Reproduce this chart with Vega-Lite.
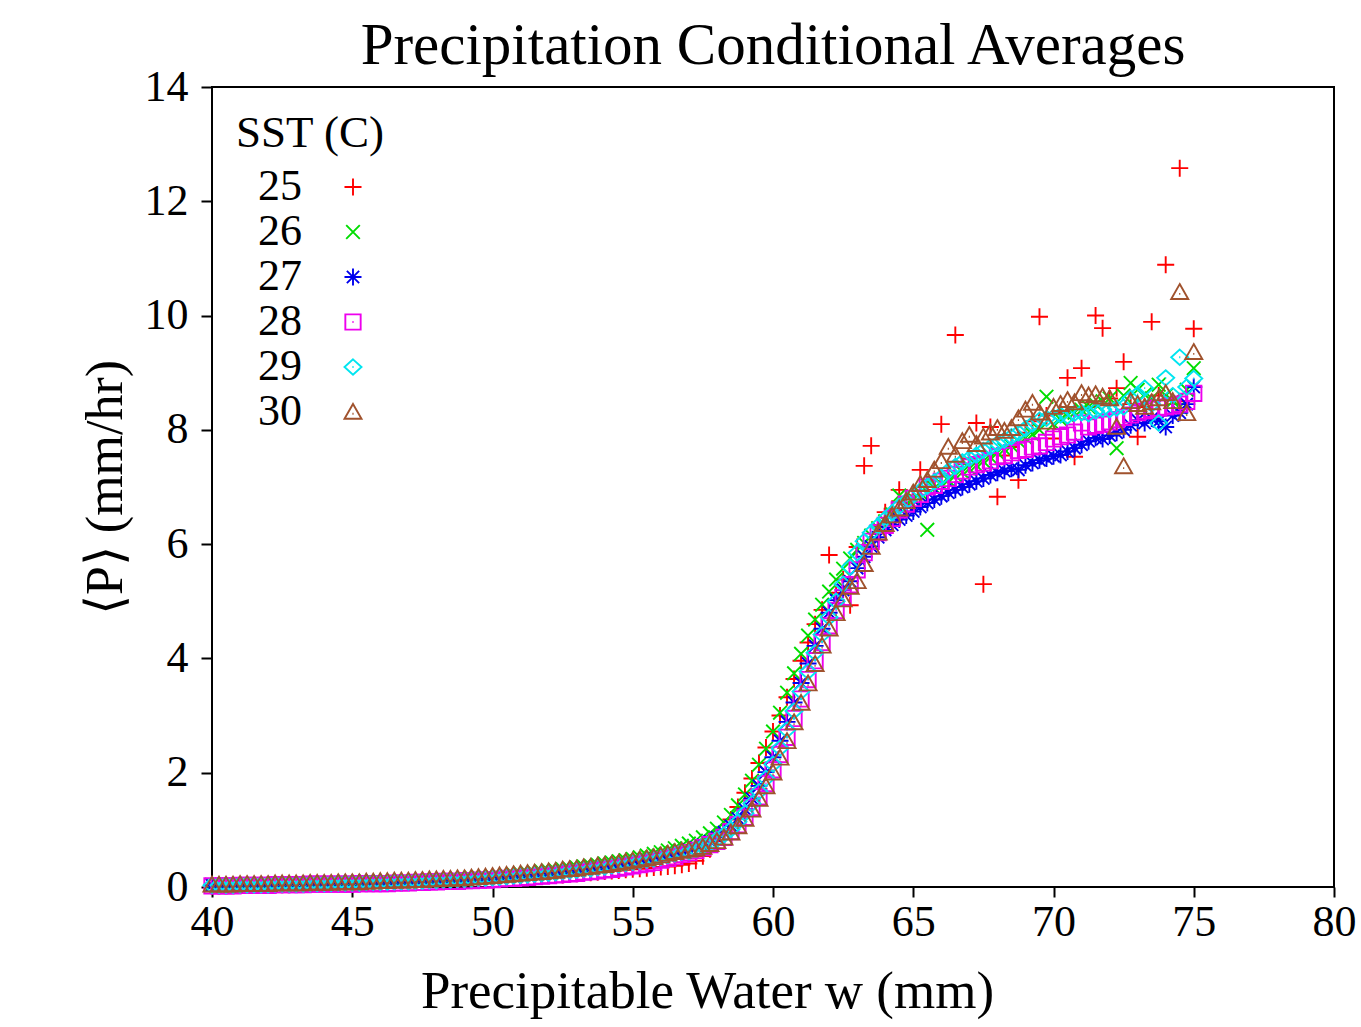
{
  "$schema": "https://vega.github.io/schema/vega-lite/v6.json",
  "width": 1122,
  "height": 800,
  "autosize": {"type": "none"},
  "padding": {"left": 212, "top": 87, "right": 27, "bottom": 140},
  "background": "white",
  "title": {
    "text": "Precipitation Conditional Averages",
    "font": "Liberation Serif",
    "fontSize": 59,
    "fontWeight": "normal",
    "color": "#000",
    "anchor": "middle",
    "frame": "group",
    "offset": -11
  },
  "data": {
    "values": [
      {"w":40.00,"25":0.02,"26":0.04,"27":0.03,"28":0.02,"29":0.03,"30":0.04},
      {"w":40.25,"25":0.02,"26":0.04,"27":0.03,"28":0.02,"29":0.03,"30":0.04},
      {"w":40.50,"25":0.03,"26":0.04,"27":0.03,"28":0.02,"29":0.03,"30":0.04},
      {"w":40.75,"25":0.03,"26":0.04,"27":0.03,"28":0.02,"29":0.03,"30":0.04},
      {"w":41.00,"25":0.03,"26":0.05,"27":0.04,"28":0.03,"29":0.04,"30":0.05},
      {"w":41.25,"25":0.03,"26":0.05,"27":0.04,"28":0.03,"29":0.04,"30":0.05},
      {"w":41.50,"25":0.03,"26":0.05,"27":0.04,"28":0.03,"29":0.04,"30":0.05},
      {"w":41.75,"25":0.04,"26":0.05,"27":0.04,"28":0.03,"29":0.04,"30":0.05},
      {"w":42.00,"25":0.04,"26":0.05,"27":0.04,"28":0.03,"29":0.04,"30":0.05},
      {"w":42.25,"25":0.04,"26":0.06,"27":0.05,"28":0.04,"29":0.05,"30":0.06},
      {"w":42.50,"25":0.04,"26":0.06,"27":0.05,"28":0.04,"29":0.05,"30":0.06},
      {"w":42.75,"25":0.04,"26":0.06,"27":0.05,"28":0.04,"29":0.05,"30":0.06},
      {"w":43.00,"25":0.05,"26":0.06,"27":0.05,"28":0.04,"29":0.05,"30":0.06},
      {"w":43.25,"25":0.05,"26":0.06,"27":0.05,"28":0.04,"29":0.05,"30":0.06},
      {"w":43.50,"25":0.05,"26":0.07,"27":0.06,"28":0.05,"29":0.06,"30":0.07},
      {"w":43.75,"25":0.05,"26":0.07,"27":0.06,"28":0.05,"29":0.06,"30":0.07},
      {"w":44.00,"25":0.06,"26":0.07,"27":0.06,"28":0.05,"29":0.06,"30":0.07},
      {"w":44.25,"25":0.06,"26":0.07,"27":0.06,"28":0.05,"29":0.06,"30":0.07},
      {"w":44.50,"25":0.06,"26":0.08,"27":0.07,"28":0.05,"29":0.07,"30":0.08},
      {"w":44.75,"25":0.06,"26":0.08,"27":0.07,"28":0.05,"29":0.07,"30":0.08},
      {"w":45.00,"25":0.07,"26":0.08,"27":0.07,"28":0.05,"29":0.07,"30":0.08},
      {"w":45.25,"25":0.07,"26":0.08,"27":0.07,"28":0.06,"29":0.07,"30":0.08},
      {"w":45.50,"25":0.07,"26":0.09,"27":0.08,"28":0.06,"29":0.08,"30":0.09},
      {"w":45.75,"25":0.07,"26":0.09,"27":0.08,"28":0.06,"29":0.08,"30":0.09},
      {"w":46.00,"25":0.08,"26":0.09,"27":0.08,"28":0.06,"29":0.08,"30":0.10},
      {"w":46.25,"25":0.08,"26":0.09,"27":0.08,"28":0.06,"29":0.08,"30":0.10},
      {"w":46.50,"25":0.08,"26":0.10,"27":0.09,"28":0.07,"29":0.09,"30":0.11},
      {"w":46.75,"25":0.08,"26":0.10,"27":0.09,"28":0.07,"29":0.09,"30":0.11},
      {"w":47.00,"25":0.09,"26":0.10,"27":0.09,"28":0.07,"29":0.09,"30":0.11},
      {"w":47.25,"25":0.09,"26":0.11,"27":0.10,"28":0.08,"29":0.10,"30":0.12},
      {"w":47.50,"25":0.09,"26":0.11,"27":0.10,"28":0.08,"29":0.10,"30":0.12},
      {"w":47.75,"25":0.10,"26":0.12,"27":0.11,"28":0.09,"29":0.11,"30":0.13},
      {"w":48.00,"25":0.10,"26":0.12,"27":0.11,"28":0.09,"29":0.11,"30":0.13},
      {"w":48.25,"25":0.11,"26":0.13,"27":0.12,"28":0.10,"29":0.12,"30":0.14},
      {"w":48.50,"25":0.11,"26":0.13,"27":0.12,"28":0.10,"29":0.12,"30":0.14},
      {"w":48.75,"25":0.12,"26":0.14,"27":0.13,"28":0.10,"29":0.13,"30":0.15},
      {"w":49.00,"25":0.12,"26":0.15,"27":0.13,"28":0.11,"29":0.13,"30":0.15},
      {"w":49.25,"25":0.12,"26":0.16,"27":0.14,"28":0.11,"29":0.14,"30":0.16},
      {"w":49.50,"25":0.13,"26":0.17,"27":0.15,"28":0.12,"29":0.15,"30":0.17},
      {"w":49.75,"25":0.13,"26":0.17,"27":0.15,"28":0.12,"29":0.15,"30":0.18},
      {"w":50.00,"25":0.14,"26":0.18,"27":0.16,"28":0.13,"29":0.16,"30":0.19},
      {"w":50.25,"25":0.14,"26":0.19,"27":0.17,"28":0.14,"29":0.17,"30":0.20},
      {"w":50.50,"25":0.15,"26":0.20,"27":0.18,"28":0.15,"29":0.18,"30":0.21},
      {"w":50.75,"25":0.16,"26":0.22,"27":0.19,"28":0.15,"29":0.19,"30":0.22},
      {"w":51.00,"25":0.16,"26":0.23,"27":0.20,"28":0.16,"29":0.20,"30":0.23},
      {"w":51.25,"25":0.17,"26":0.24,"27":0.21,"28":0.17,"29":0.21,"30":0.24},
      {"w":51.50,"25":0.18,"26":0.25,"27":0.22,"28":0.18,"29":0.22,"30":0.25},
      {"w":51.75,"25":0.19,"26":0.27,"27":0.23,"28":0.19,"29":0.23,"30":0.26},
      {"w":52.00,"25":0.20,"26":0.28,"27":0.24,"28":0.20,"29":0.24,"30":0.27},
      {"w":52.25,"25":0.21,"26":0.29,"27":0.25,"28":0.21,"29":0.25,"30":0.28},
      {"w":52.50,"25":0.21,"26":0.31,"27":0.27,"28":0.22,"29":0.27,"30":0.30},
      {"w":52.75,"25":0.22,"26":0.32,"27":0.28,"28":0.23,"29":0.28,"30":0.31},
      {"w":53.00,"25":0.23,"26":0.34,"27":0.29,"28":0.24,"29":0.29,"30":0.32},
      {"w":53.25,"25":0.24,"26":0.36,"27":0.31,"28":0.26,"29":0.31,"30":0.34},
      {"w":53.50,"25":0.25,"26":0.37,"27":0.32,"28":0.27,"29":0.32,"30":0.35},
      {"w":53.75,"25":0.26,"26":0.39,"27":0.34,"28":0.28,"29":0.34,"30":0.37},
      {"w":54.00,"25":0.27,"26":0.41,"27":0.35,"28":0.30,"29":0.35,"30":0.38},
      {"w":54.25,"25":0.28,"26":0.43,"27":0.37,"28":0.31,"29":0.37,"30":0.40},
      {"w":54.50,"25":0.29,"26":0.45,"27":0.39,"28":0.33,"29":0.39,"30":0.42},
      {"w":54.75,"25":0.30,"26":0.47,"27":0.41,"28":0.35,"29":0.41,"30":0.44},
      {"w":55.00,"25":0.31,"26":0.49,"27":0.43,"28":0.37,"29":0.43,"30":0.46},
      {"w":55.25,"25":0.32,"26":0.52,"27":0.45,"28":0.39,"29":0.45,"30":0.48},
      {"w":55.50,"25":0.33,"26":0.55,"27":0.47,"28":0.41,"29":0.47,"30":0.50},
      {"w":55.75,"25":0.34,"26":0.58,"27":0.50,"28":0.43,"29":0.49,"30":0.52},
      {"w":56.00,"25":0.35,"26":0.61,"27":0.52,"28":0.47,"29":0.52,"30":0.55},
      {"w":56.25,"25":0.36,"26":0.64,"27":0.55,"28":0.50,"29":0.55,"30":0.58},
      {"w":56.50,"25":0.37,"26":0.68,"27":0.58,"28":0.53,"29":0.58,"30":0.61},
      {"w":56.75,"25":0.39,"26":0.72,"27":0.61,"28":0.57,"29":0.61,"30":0.63},
      {"w":57.00,"25":0.41,"26":0.76,"27":0.65,"28":0.60,"29":0.62,"30":0.65},
      {"w":57.25,"25":0.46,"26":0.81,"27":0.69,"28":0.64,"29":0.66,"30":0.67},
      {"w":57.50,"25":0.54,"26":0.87,"27":0.74,"28":0.69,"29":0.71,"30":0.70},
      {"w":57.75,"25":0.66,"26":0.94,"27":0.80,"28":0.74,"29":0.76,"30":0.75},
      {"w":58.00,"25":0.80,"26":1.02,"27":0.87,"28":0.80,"29":0.83,"30":0.80},
      {"w":58.25,"25":0.98,"26":1.13,"27":0.96,"28":0.87,"29":0.91,"30":0.86},
      {"w":58.50,"25":1.18,"26":1.26,"27":1.07,"28":0.97,"29":1.01,"30":0.95},
      {"w":58.75,"25":1.40,"26":1.43,"27":1.20,"28":1.09,"29":1.14,"30":1.06},
      {"w":59.00,"25":1.65,"26":1.62,"27":1.36,"28":1.22,"29":1.29,"30":1.19},
      {"w":59.25,"25":1.90,"26":1.86,"27":1.55,"28":1.39,"29":1.46,"30":1.35},
      {"w":59.50,"25":2.17,"26":2.14,"27":1.77,"28":1.58,"29":1.67,"30":1.54},
      {"w":59.75,"25":2.44,"26":2.42,"27":2.01,"28":1.81,"29":1.90,"30":1.76},
      {"w":60.00,"25":2.72,"26":2.72,"27":2.27,"28":2.05,"29":2.15,"30":2.00},
      {"w":60.25,"25":3.00,"26":3.05,"27":2.56,"28":2.32,"29":2.43,"30":2.26},
      {"w":60.50,"25":3.32,"26":3.40,"27":2.89,"28":2.62,"29":2.75,"30":2.55},
      {"w":60.75,"25":3.64,"26":3.74,"27":3.23,"28":2.95,"29":3.08,"30":2.88},
      {"w":61.00,"25":3.96,"26":4.08,"27":3.57,"28":3.29,"29":3.42,"30":3.22},
      {"w":61.25,"25":4.28,"26":4.40,"27":3.91,"28":3.63,"29":3.77,"30":3.56},
      {"w":61.50,"25":4.60,"26":4.68,"27":4.22,"28":3.96,"29":4.10,"30":3.90},
      {"w":61.75,"25":4.85,"26":4.94,"27":4.52,"28":4.28,"29":4.42,"30":4.22},
      {"w":62.00,"25":5.81,"26":5.17,"27":4.80,"28":4.57,"29":4.72,"30":4.52},
      {"w":62.25,"25":5.15,"26":5.38,"27":5.02,"28":4.84,"29":5.00,"30":4.79},
      {"w":62.50,"25":5.38,"26":5.57,"27":5.20,"28":5.07,"29":5.30,"30":5.03},
      {"w":62.75,"25":4.93,"26":5.75,"27":5.35,"28":5.29,"29":5.60,"30":5.25},
      {"w":63.00,"25":5.95,"26":5.90,"27":5.58,"28":5.55,"29":5.85,"30":5.35},
      {"w":63.25,"25":7.37,"26":6.02,"27":5.78,"28":5.85,"29":6.05,"30":5.65},
      {"w":63.50,"25":7.72,"26":6.15,"27":5.96,"28":6.05,"29":6.20,"30":5.95},
      {"w":63.75,"25":6.30,"26":6.28,"27":6.12,"28":6.20,"29":6.32,"30":6.20},
      {"w":64.00,"25":6.56,"26":6.40,"27":6.25,"28":6.33,"29":6.44,"30":6.35},
      {"w":64.25,"25":6.62,"26":6.52,"27":6.34,"28":6.45,"29":6.55,"30":6.50},
      {"w":64.50,"25":6.95,"26":6.85,"27":6.43,"28":6.60,"29":6.66,"30":6.62},
      {"w":64.75,"25":6.70,"26":6.70,"27":6.50,"28":6.70,"29":6.75,"30":6.75},
      {"w":65.00,"25":6.85,"26":6.80,"27":6.57,"28":6.80,"29":6.85,"30":6.90},
      {"w":65.25,"25":7.30,"26":6.90,"27":6.65,"28":6.87,"29":6.93,"30":7.05},
      {"w":65.50,"25":6.95,"26":6.25,"27":6.72,"28":7.00,"29":7.01,"30":7.12},
      {"w":65.75,"25":7.10,"26":6.98,"27":6.78,"28":7.03,"29":7.09,"30":7.30},
      {"w":66.00,"25":8.10,"26":7.05,"27":6.84,"28":7.10,"29":7.17,"30":7.45},
      {"w":66.25,"25":7.20,"26":7.12,"27":6.90,"28":7.15,"29":7.28,"30":7.70},
      {"w":66.50,"25":9.66,"26":7.20,"27":6.95,"28":7.22,"29":7.36,"30":7.56},
      {"w":66.75,"25":7.40,"26":7.26,"27":7.00,"28":7.28,"29":7.44,"30":7.80},
      {"w":67.00,"25":7.50,"26":7.32,"27":7.05,"28":7.35,"29":7.50,"30":7.91},
      {"w":67.25,"25":8.12,"26":7.38,"27":7.10,"28":7.39,"29":7.56,"30":7.75},
      {"w":67.50,"25":5.30,"26":7.45,"27":7.15,"28":7.42,"29":7.64,"30":7.88},
      {"w":67.75,"25":8.05,"26":7.52,"27":7.21,"28":7.46,"29":7.70,"30":7.95},
      {"w":68.00,"25":6.83,"26":7.60,"27":7.25,"28":7.53,"29":7.76,"30":8.03},
      {"w":68.25,"25":7.55,"26":7.66,"27":7.28,"28":7.55,"29":7.82,"30":7.98},
      {"w":68.50,"25":7.70,"26":7.72,"27":7.32,"28":7.60,"29":7.88,"30":8.03},
      {"w":68.75,"25":7.12,"26":7.80,"27":7.30,"28":7.64,"29":7.95,"30":8.20},
      {"w":69.00,"25":7.95,"26":7.86,"27":7.38,"28":7.66,"29":8.02,"30":8.35},
      {"w":69.25,"25":8.15,"26":7.92,"27":7.42,"28":7.70,"29":8.10,"30":8.47},
      {"w":69.50,"25":9.98,"26":8.00,"27":7.47,"28":7.72,"29":8.17,"30":8.30},
      {"w":69.75,"25":8.25,"26":8.58,"27":7.50,"28":7.78,"29":8.20,"30":8.14},
      {"w":70.00,"25":7.85,"26":8.10,"27":7.54,"28":7.84,"29":8.22,"30":8.40},
      {"w":70.25,"25":8.30,"26":8.18,"27":7.56,"28":7.88,"29":8.26,"30":8.45},
      {"w":70.50,"25":8.91,"26":8.25,"27":7.62,"28":7.91,"29":8.24,"30":8.52},
      {"w":70.75,"25":7.53,"26":8.30,"27":7.68,"28":7.96,"29":8.29,"30":8.48},
      {"w":71.00,"25":9.08,"26":8.35,"27":7.74,"28":8.12,"29":8.30,"30":8.64},
      {"w":71.25,"25":8.40,"26":8.40,"27":7.80,"28":8.05,"29":8.28,"30":8.60},
      {"w":71.50,"25":10.00,"26":8.45,"27":7.86,"28":8.08,"29":8.33,"30":8.62},
      {"w":71.75,"25":9.78,"26":8.50,"27":7.84,"28":8.10,"29":8.36,"30":8.58},
      {"w":72.00,"25":8.55,"26":8.55,"27":7.90,"28":8.14,"29":8.35,"30":8.55},
      {"w":72.25,"25":8.73,"26":7.68,"27":7.95,"28":8.18,"29":8.38,"30":8.05},
      {"w":72.50,"25":9.19,"26":8.60,"27":8.00,"28":8.22,"29":8.40,"30":7.36},
      {"w":72.75,"25":8.45,"26":8.82,"27":8.08,"28":8.26,"29":8.55,"30":8.50},
      {"w":73.00,"25":7.88,"26":8.70,"27":8.17,"28":8.30,"29":8.62,"30":8.45},
      {"w":73.25,"25":8.40,"26":8.62,"27":8.12,"28":8.33,"29":8.73,"30":8.40},
      {"w":73.50,"25":9.89,"26":8.55,"27":8.20,"28":8.36,"29":8.45,"30":8.48},
      {"w":73.75,"25":8.60,"26":8.79,"27":8.15,"28":8.38,"29":8.12,"30":8.55},
      {"w":74.00,"25":10.89,"26":8.60,"27":8.05,"28":8.40,"29":8.91,"30":8.64},
      {"w":74.25,"25":8.45,"26":8.50,"27":8.25,"28":8.42,"29":8.60,"30":8.50},
      {"w":74.50,"25":12.58,"26":8.40,"27":8.30,"28":8.45,"29":9.27,"30":10.41},
      {"w":74.75,"25":8.50,"26":8.70,"27":8.45,"28":8.50,"29":8.75,"30":8.29},
      {"w":75.00,"25":9.77,"26":9.08,"27":8.75,"28":8.64,"29":8.90,"30":9.36}
    ]
  },
  "transform": [
    {"fold": ["25", "26", "27", "28", "29", "30"], "as": ["SST", "P"]}
  ],
  "mark": {"type": "point", "filled": false, "size": 290, "strokeWidth": 1.9, "opacity": 1},
  "encoding": {
    "x": {
      "field": "w",
      "type": "quantitative",
      "scale": {"domain": [40, 80], "nice": false, "zero": false},
      "axis": {
        "title": "Precipitable Water w (mm)",
        "values": [40, 45, 50, 55, 60, 65, 70, 75, 80],
        "tickSize": 10,
        "labelPadding": 3,
        "labelFlush": false,
        "labelOverlap": false,
        "titleFontSize": 53,
        "titlePadding": 21,
        "titleX": 495,
        "titleAnchor": "middle"
      }
    },
    "y": {
      "field": "P",
      "type": "quantitative",
      "scale": {"domain": [0, 14], "nice": false},
      "axis": {
        "title": "⟨P⟩ (mm/hr)",
        "values": [0, 2, 4, 6, 8, 10, 12, 14],
        "tickSize": 11,
        "labelPadding": 13,
        "labelOverlap": false,
        "titleFontSize": 52,
        "titlePadding": 12
      }
    },
    "color": {
      "field": "SST",
      "type": "nominal",
      "scale": {
        "domain": ["25", "26", "27", "28", "29", "30"],
        "range": ["#ff0000", "#00dd00", "#0000ee", "#ee00ee", "#00e5f0", "#a0522d"]
      },
      "legend": {"title": "SST (C)"}
    },
    "shape": {
      "field": "SST",
      "type": "nominal",
      "scale": {
        "domain": ["25", "26", "27", "28", "29", "30"],
        "range": [
          "M-1,0L1,0M0,-1L0,1",
          "M-0.8,-0.8L0.8,0.8M-0.8,0.8L0.8,-0.8",
          "M-1,0L1,0M0,-1L0,1M-0.72,-0.72L0.72,0.72M-0.72,0.72L0.72,-0.72",
          "M-0.9,-0.9L0.9,-0.9L0.9,0.9L-0.9,0.9ZM-0.07,0L0.07,0",
          "M0,-0.9L1,0L0,0.9L-1,0ZM-0.07,0L0.07,0",
          "M0,-0.95L1,0.8L-1,0.8ZM-0.07,0.2L0.07,0.2"
        ]
      },
      "legend": {"title": "SST (C)"}
    },
    "order": {"field": "SST", "type": "ordinal"}
  },
  "config": {
    "font": "Liberation Serif",
    "view": {"stroke": "#000", "strokeWidth": 2, "fill": "white"},
    "axis": {
      "domain": false,
      "grid": false,
      "ticks": true,
      "tickColor": "#000",
      "tickWidth": 2,
      "labelColor": "#000",
      "labelFont": "Liberation Serif",
      "labelFontSize": 44,
      "titleFont": "Liberation Serif",
      "titleFontWeight": "normal",
      "titleColor": "#000"
    },
    "legend": {
      "orient": "none",
      "legendX": 24,
      "legendY": 24,
      "padding": 0,
      "titleFont": "Liberation Serif",
      "titleFontSize": 45,
      "titleFontWeight": "normal",
      "titleColor": "#000",
      "titlePadding": 9,
      "labelFont": "Liberation Serif",
      "labelFontSize": 44,
      "labelColor": "#000",
      "labelAlign": "right",
      "labelOffset": -73,
      "labelLimit": 0,
      "symbolOffset": 95,
      "symbolSize": 290,
      "symbolStrokeWidth": 1.9,
      "rowPadding": 1
    }
  }
}
